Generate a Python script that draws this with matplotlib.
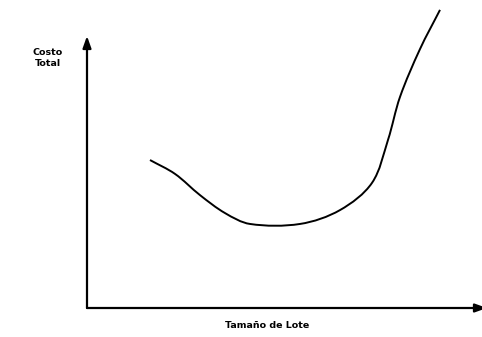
import numpy as np
import matplotlib
matplotlib.use("Agg")
import matplotlib.pyplot as plt
from matplotlib.path import Path
from matplotlib.patches import PathPatch

# Costo total vs tamaño de lote (curva en U)
lot_size = [15.75, 22.0, 28.25, 34.5, 40.75, 53.25, 63.25, 71.25, 75.25,
            78.25, 83.25, 88.25]
total_cost = [54.4, 49.3, 41.5, 34.9, 30.9, 30.9, 36.0, 46.0, 61.8,
              77.6, 95.2, 109.6]

x_label = "Tamaño de Lote"
y_label = "Costo\nTotal"


def smooth_path(ax, x, y):
    # Hermite spline through the points, parameterised by on-screen chord length
    pts = np.column_stack([x, y])
    scr = ax.transData.transform(pts)
    t = np.concatenate([[0], np.cumsum(np.hypot(*np.diff(scr, axis=0).T))])
    n = len(pts)
    m = np.zeros_like(pts)
    m[0] = (pts[1] - pts[0]) / (t[1] - t[0])
    m[-1] = (pts[-1] - pts[-2]) / (t[-1] - t[-2])
    for i in range(1, n - 1):
        m[i] = (pts[i + 1] - pts[i - 1]) / (t[i + 1] - t[i - 1])
    verts = [pts[0]]
    codes = [Path.MOVETO]
    for i in range(n - 1):
        h = t[i + 1] - t[i]
        verts += [pts[i] + m[i] * h / 3, pts[i + 1] - m[i + 1] * h / 3, pts[i + 1]]
        codes += [Path.CURVE4] * 3
    return Path(verts, codes)


fig = plt.figure(figsize=(4.82, 3.37), dpi=100)
ax = fig.add_axes([87 / 482, 29 / 337, 400 / 482, 272 / 337])
ax.set_xlim(0, 100)
ax.set_ylim(0, 100)
ax.axis("off")

# axes drawn as arrows from the origin
arrow = dict(arrowstyle="-|>,head_length=0.7,head_width=0.25", color="black",
             lw=1.6, shrinkA=0, shrinkB=0)
ax.annotate("", xy=(0, 100), xytext=(0, 0), arrowprops=arrow, annotation_clip=False)
ax.annotate("", xy=(100, 0), xytext=(0, 0), arrowprops=arrow, annotation_clip=False)

curve = PathPatch(smooth_path(ax, lot_size, total_cost), facecolor="none",
                  edgecolor="black", lw=1.4, clip_on=False)
ax.add_patch(curve)

fig.text(267 / 482, 1 - 325 / 337, x_label, ha="center", va="center",
         fontsize=6.8, fontweight="bold", family="DejaVu Sans")
fig.text(48 / 482, 1 - 58 / 337, y_label, ha="center", va="center",
         fontsize=6.8, fontweight="bold", family="DejaVu Sans", linespacing=1.3)

fig.savefig("out.png", dpi=100)
